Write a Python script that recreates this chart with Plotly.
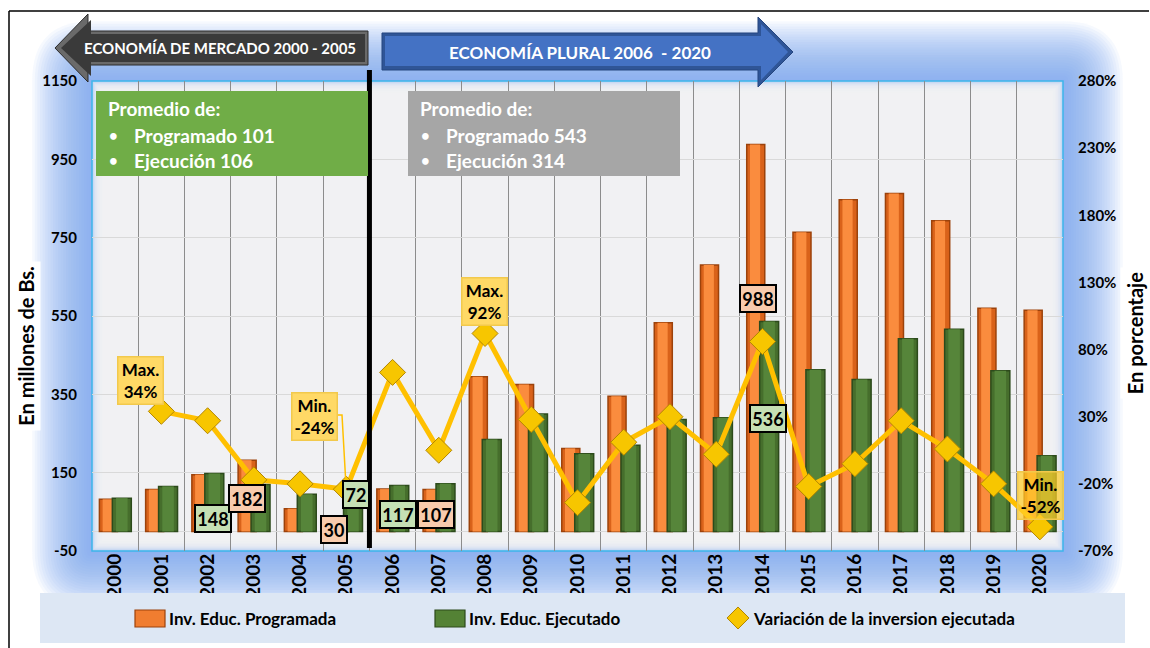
import plotly.graph_objects as go

# data
years = [str(y) for y in range(2000, 2021)]
programada = [82, 107, 145, 182, 58, 30, 108, 107, 395, 375, 212, 345, 533, 680,
              988, 764, 847, 863, 793, 570, 565]
ejecutado = [85, 115, 148, 120, 95, 72, 117, 122, 235, 300, 198, 220, 286, 290,
             536, 413, 388, 492, 516, 410, 193]
variacion = [None, 34, 27, -17, -20, -24, 63, 5, 92, 28, -34, 11, 30, 2, 86,
             -22, -5, 27, 6, -20, -52]

left_ticks = [-50, 150, 350, 550, 750, 950, 1150]
right_ticks = [-70, -20, 30, 80, 130, 180, 230, 280]

FONT = "Lato, 'Open Sans', sans-serif"
W, H = 1150, 648
PL, PR, PT, PB = 92, 1063, 81, 551   # plot area in pixels


def px(x):
    return (x - PL) / (PR - PL)


def py(y):
    return (PB - y) / (PB - PT)


def rect(x0, y0, x1, y1, **kw):
    d = dict(type="rect", xref="paper", yref="paper",
             x0=px(x0), x1=px(x1), y0=py(y1), y1=py(y0))
    d.update(kw)
    return d


def rrect(x0, y0, x1, y1, r, **kw):
    # rounded rectangle as a path (pixel input)
    p = lambda a, b: f"{px(a):.5f},{py(b):.5f}"
    path = (f"M {p(x0 + r, y0)} L {p(x1 - r, y0)} Q {p(x1, y0)} {p(x1, y0 + r)} "
            f"L {p(x1, y1 - r)} Q {p(x1, y1)} {p(x1 - r, y1)} "
            f"L {p(x0 + r, y1)} Q {p(x0, y1)} {p(x0, y1 - r)} "
            f"L {p(x0, y0 + r)} Q {p(x0, y0)} {p(x0 + r, y0)} Z")
    d = dict(type="path", xref="paper", yref="paper", path=path)
    d.update(kw)
    return d


def poly(points, **kw):
    path = "M " + " L ".join(f"{px(a):.5f},{py(b):.5f}" for a, b in points) + " Z"
    d = dict(type="path", xref="paper", yref="paper", path=path)
    d.update(kw)
    return d


fig = go.Figure()

# bars: darker body plus a lighter centre stripe for the cylinder look
fig.add_trace(go.Bar(
    x=years, y=programada, name="Inv. Educ. Programada",
    offset=-0.34, width=0.39,
    marker=dict(color="#d9621a", line=dict(color="#9c420b", width=1.5)),
    showlegend=False,
))
fig.add_trace(go.Bar(
    x=years, y=programada, hoverinfo="skip",
    offset=-0.27, width=0.22,
    marker=dict(color="#fa8c3e", line=dict(width=0)),
    showlegend=False,
))
fig.add_trace(go.Bar(
    x=years, y=ejecutado, name="Inv. Educ. Ejecutado",
    offset=-0.06, width=0.41,
    marker=dict(color="#466e2c", line=dict(color="#2c4a1b", width=1.5)),
    showlegend=False,
))
fig.add_trace(go.Bar(
    x=years, y=ejecutado, hoverinfo="skip",
    offset=0.02, width=0.25,
    marker=dict(color="#56853a", line=dict(width=0)),
    showlegend=False,
))
fig.add_trace(go.Scatter(
    x=years, y=variacion, yaxis="y2", name="Variación de la inversion ejecutada",
    mode="lines+markers",
    line=dict(color="#ffc000", width=5),
    marker=dict(symbol="diamond", size=20, color="#f7c600",
                line=dict(color="#b38600", width=1)),
    showlegend=False,
))

shapes = []

# soft blue glow around the plot area
for i in range(24):
    pad = 2.6 * i
    shapes.append(rrect(PL - pad, PT - pad, PR + pad, PB + pad, pad, layer="below",
                        line=dict(width=0), fillcolor="rgb(125,168,240)", opacity=0.065))
shapes.append(rect(PL, PT, PR, PB, layer="below", line=dict(width=0),
                   fillcolor="rgb(160,192,244)"))
for k in range(9):
    ins = 1.6 * k
    shapes.append(rect(PL + ins, PT + ins, PR - ins, PB - ins, layer="below",
                       line=dict(width=0), fillcolor="#f2f2f2", opacity=0.4))
shapes.append(rect(PL, PT, PR, PB, layer="below",
                   line=dict(color="#3db5ea", width=1.5), fillcolor="rgba(0,0,0,0)"))

# outer frame (top and left edges)
shapes.append(dict(type="line", xref="paper", yref="paper",
                   x0=px(9), x1=px(1149), y0=py(11), y1=py(11),
                   line=dict(color="black", width=1.5)))
shapes.append(dict(type="line", xref="paper", yref="paper",
                   x0=px(9), x1=px(9), y0=py(11), y1=py(648),
                   line=dict(color="black", width=1.5)))

# legend background
shapes.append(rect(40, 593, 1125, 643, line=dict(width=0), fillcolor="#dde7f4"))
shapes.append(rect(135, 610, 165, 627, line=dict(color="#9c420b", width=1.2),
                   fillcolor="#f07d30"))
shapes.append(rect(435, 610, 465, 627, line=dict(color="#2c4a1b", width=1.2),
                   fillcolor="#548235"))
shapes.append(poly([(727, 618), (738, 607), (749, 618), (738, 629)],
                   line=dict(color="#b38600", width=1), fillcolor="#f7c600"))

# separator between periods
shapes.append(dict(type="line", xref="x", yref="paper", x0=5.5, x1=5.5,
                   y0=py(548), y1=py(70), line=dict(color="black", width=5),
                   layer="above"))

# period arrows
shapes.append(poly([(55, 48), (88, 14), (88, 31), (368, 31), (368, 65), (88, 65), (88, 82)],
                   line=dict(color="#2b2b2b", width=1), fillcolor="#6a6a6a"))
shapes.append(poly([(61, 48), (91, 20), (91, 34), (365, 34), (365, 62), (91, 62), (91, 76)],
                   line=dict(width=0), fillcolor="#3a3a3a"))
shapes.append(poly([(382, 33), (758, 33), (758, 17), (793, 52), (758, 87), (758, 70), (382, 70)],
                   line=dict(color="#26467f", width=1), fillcolor="#2f5597"))
shapes.append(poly([(385, 36), (761, 36), (761, 24), (788, 52), (761, 80), (761, 66), (385, 66)],
                   line=dict(width=0), fillcolor="#4472c4"))

# promedio boxes
shapes.append(rect(96, 91, 368, 176, line=dict(width=0), fillcolor="#70ad47"))
shapes.append(rect(408, 91, 680, 176, line=dict(width=0), fillcolor="#a6a6a6"))

# leader for Min -24%
shapes.append(dict(type="path", xref="paper", yref="paper",
                   path=f"M {px(337)},{py(415)} L {px(342)},{py(415)} L {px(346)},{py(486)}",
                   line=dict(color="#ffc000", width=1.5)))

annotations = []


def text(x, y, s, size=15, color="black", xanchor="center", **kw):
    d = dict(xref="paper", yref="paper", x=px(x), y=py(y), text=s, showarrow=False,
             xanchor=xanchor, yanchor="middle",
             font=dict(family=FONT, size=size, color=color, weight="bold"))
    d.update(kw)
    annotations.append(d)


text(220, 48, "ECONOMÍA DE MERCADO 2000 - 2005", size=15, color="white")
text(580, 52, "ECONOMÍA PLURAL 2006  - 2020", size=17, color="white")

for x0, lines in [(106, ["Promedio de:", "Programado 101", "Ejecución 106"]),
                  (418, ["Promedio de:", "Programado 543", "Ejecución 314"])]:
    text(x0, 109, lines[0], size=19, color="white", xanchor="left")
    for yy, s in zip([135, 160], lines[1:]):
        text(x0 + 1, yy, "•", size=15, color="white", xanchor="left")
        text(x0 + 26, yy, s, size=19, color="white", xanchor="left")

# legend labels
text(167, 618, "Inv. Educ. Programada", size=17, xanchor="left")
text(467, 618, "Inv. Educ. Ejecutado", size=17, xanchor="left")
text(751, 618, "Variación de la inversion ejecutada", size=17, xanchor="left")

# axis titles on white tags
text(26, 346, "En millones de Bs.", size=20, textangle=-90, bgcolor="white",
     width=168, height=28, borderpad=0)
text(1135, 333, "En porcentaje", size=20, textangle=-90, bgcolor="white",
     width=130, height=28, borderpad=0)

# data label boxes
for cx, cy, s, fill in [(213, 518, "148", "#c5e0b4"), (247, 498, "182", "#f8cbad"),
                        (334, 529, "30", "#f8cbad"), (356, 494, "72", "#c5e0b4"),
                        (398, 514, "117", "#c5e0b4"), (436, 514, "107", "#f8cbad"),
                        (758, 298, "988", "#f8cbad"), (768, 418, "536", "#c5e0b4")]:
    w = 34 if len(s) == 3 else 24
    text(cx, cy, s, size=18, bgcolor=fill, bordercolor="black", borderwidth=2,
         borderpad=0, width=w, height=25)

# max / min callouts
for cx, cy, s, fill in [(140, 380, "Max.<br>34%", "#ffd966"),
                        (314, 416, "Min.<br>-24%", "#ffd966"),
                        (484, 301, "Max.<br>92%", "#ffd966"),
                        (1040, 495, "Min.<br>-52%", "rgba(255,205,40,0.72)")]:
    text(cx, cy, s, size=17, bgcolor=fill, bordercolor="#f2c94c", borderwidth=1.5,
         borderpad=0, width=44, height=46)

fig.update_layout(
    width=W, height=H,
    margin=dict(l=PL, r=W - PR, t=PT, b=H - PB, autoexpand=False),
    paper_bgcolor="white",
    plot_bgcolor="rgba(0,0,0,0)",
    barmode="overlay",
    font=dict(family=FONT, color="black"),
    xaxis=dict(
        type="category", range=[-0.5, 20.5], tickson="boundaries", automargin=False,
        showgrid=True, gridcolor="#8c8c8c", gridwidth=1, ticks="", tickangle=-90,
        showline=False, zeroline=False, ticklabelstandoff=-2,
        tickfont=dict(size=19, weight="bold", color="black"),
    ),
    yaxis=dict(
        range=[-50, 1150], tickvals=left_ticks, ticktext=[str(v) for v in left_ticks],
        automargin=False, showgrid=True, gridcolor="#d9d9d9",
        zeroline=True, zerolinecolor="#d9d9d9", zerolinewidth=1, showline=False,
        ticks="", ticklabelstandoff=14,
        tickfont=dict(size=15, weight="bold", color="black"),
    ),
    yaxis2=dict(
        range=[-70, 280], tickvals=right_ticks, ticktext=[f"{v}%" for v in right_ticks],
        automargin=False, overlaying="y", side="right", showgrid=False, zeroline=False,
        showline=False, ticks="", ticklabelstandoff=14,
        tickfont=dict(size=15, weight="bold", color="black"),
    ),
    shapes=shapes,
    annotations=annotations,
)

# drop the default page margin so the figure sits at the window origin
fig.write_html("out.html", config={"displayModeBar": False},
               post_script="document.body.style.margin='0';")
